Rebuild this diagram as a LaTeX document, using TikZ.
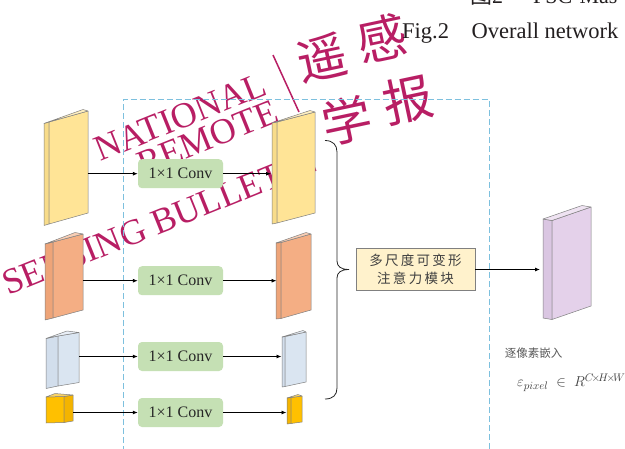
\documentclass[tikz,border=0pt]{standalone}
\usepackage{fontspec}
\setmainfont{Liberation Serif}
\newfontfamily\cjk{Noto Sans CJK SC}
\newfontfamily\cjkls[LetterSpace=17]{Noto Sans CJK SC}
\usetikzlibrary{arrows.meta}
\definecolor{wmred}{RGB}{184,30,100}
\definecolor{frameblue}{RGB}{125,192,222}
\definecolor{convgreen}{RGB}{197,224,180}
\definecolor{boxcream}{RGB}{255,242,204}
\definecolor{ylwF}{RGB}{255,228,150}
\definecolor{ylwS}{RGB}{248,220,138}
\definecolor{orgF}{RGB}{244,174,132}
\definecolor{orgS}{RGB}{238,164,120}
\definecolor{bluF}{RGB}{218,229,241}
\definecolor{bluS}{RGB}{210,222,236}
\definecolor{gldF}{RGB}{255,192,0}
\definecolor{gldS}{RGB}{244,180,0}
\definecolor{purF}{RGB}{228,209,234}
\definecolor{purS}{RGB}{218,198,226}
\definecolor{captext}{RGB}{35,31,32}
\newcommand\slabbox[9]{%
  \filldraw[slabedge, fill=#9] (#1,#4) -- (#2,#5) -- (#2,#5+#7) -- (#1,#4+#7) -- cycle;
  \filldraw[slabedge, fill=#8] (#2,#5) -- (#3,#6) -- (#3,#6+#7) -- (#2,#5+#7) -- cycle;
  \filldraw[slabedge, fill=#8!60!white] (#1,#4) -- (#2,#5) -- (#3,#6) -- (#3-#2+#1,#6-1.5) -- cycle;
}
\begin{document}
\begin{tikzpicture}[x=1pt,y=-1pt,
  slabedge/.style={draw=black!50, line width=0.5pt, line join=round},
  wm/.style={text=wmred, inner sep=0pt, rotate=22},
  wmcjk/.style={text=wmred, inner sep=0pt, rotate=12, font=\cjk\fontsize{50}{50}\selectfont},
  convbox/.style={fill=convgreen, rounded corners=4pt, minimum width=85pt, minimum height=29pt, inner sep=0pt, font=\fontsize{16}{18}\selectfont, text=black!85},
  conn/.style={-{Latex[length=5pt,width=4pt]}, line width=0.8pt, black},
  dashframe/.style={draw=frameblue, line width=0.8pt, dash pattern=on 6pt off 3pt},
]
\useasboundingbox (0,0) rectangle (625,448);
\fill[white] (0,0) rectangle (625,448);

% watermark (under the diagram)
\node[wm, anchor=base west, font=\fontsize{36}{36}\selectfont] (wmA) at (100,162) {NATIONAL};
\node[wm, anchor=base west, font=\fontsize{36}{36}\selectfont] (wmB) at (143,177) {REMOTE};
\node[wm, anchor=base west, font=\fontsize{36}{36}\selectfont] (wmC) at (8,296) {SENSING BULLETIN};
\draw[wmred, line width=1.5pt] (273,55) -- (299,112);
\node[wmcjk] (wmD) at (322,58) {遥};
\node[wmcjk] (wmE) at (382,38) {感};
\node[wmcjk] (wmF) at (347,120) {学};
\node[wmcjk] (wmG) at (408,100) {报};

% caption
\node[anchor=base west, inner sep=0pt, text=captext, font=\fontsize{22}{22}\selectfont] (cap0) at (470,3.5) {{\cjk 图}2\hspace{30pt}FSC-Mas};
\node[anchor=base west, inner sep=0pt, text=captext, font=\fontsize{22.5}{22.5}\selectfont] (cap) at (402,38) {Fig.2\hspace{1em}Overall network};

% dashed frame
\draw[dashframe] (123,470) -- (123,99.5) -- (489,99.5) -- (489,470);

% input feature maps
\slabbox{44}{49}{88}{123.5}{122}{111}{102}{ylwF}{ylwS}
\slabbox{45}{53}{83}{244}{242}{234}{76}{orgF}{orgS}
\slabbox{46}{58}{79}{338.5}{336}{332.5}{50}{bluF}{bluS}
\slabbox{46}{64}{73}{397}{396.5}{395}{26}{gldS}{gldF}
% output feature maps
\slabbox{272}{277}{315}{123}{122}{112}{101}{ylwF}{ylwS}
\slabbox{276}{281}{311}{243}{242.5}{234}{76}{orgF}{orgS}
\slabbox{282}{285}{306}{337}{336.5}{332}{50}{bluF}{bluS}
\slabbox{287}{291}{302}{398}{397.5}{396}{26}{gldF}{gldS}
% pixel embedding
\slabbox{543}{552}{591}{219}{220.5}{207}{99}{purF}{purS}

% attachment points
\coordinate (in1) at (87.5,173.7);
\coordinate (in2) at (82.5,280.7);
\coordinate (in3) at (79,356.5);
\coordinate (in4) at (73,412.5);
\coordinate (out1) at (271,173.7);
\coordinate (out2) at (276.5,280.7);
\coordinate (out3) at (281.5,356.5);
\coordinate (out4) at (286.5,412.5);
\coordinate (emb) at (540,269.5);

% conv boxes
\node[convbox] (c1) at (180.5,173.7) {1×1 Conv};
\node[convbox] (c2) at (180.5,280.7) {1×1 Conv};
\node[convbox] (c3) at (180.5,356.5) {1×1 Conv};
\node[convbox] (c4) at (180.5,412.5) {1×1 Conv};

\draw[conn] (in1) -- (c1);
\draw[conn] (in2) -- (c2);
\draw[conn] (in3) -- (c3);
\draw[conn] (in4) -- (c4);
\draw[conn] (c1) -- (out1);
\draw[conn] (c2) -- (out2);
\draw[conn] (c3) -- (out3);
\draw[conn] (c4) -- (out4);

% brace
\draw[line width=0.8pt, black!85] (325,140.5) .. controls (333,140.5) and (337,145) .. (337,152)
  -- (337,261) .. controls (337,266.5) and (341,269.5) .. (349,269.5)
  .. controls (341,269.5) and (337,272.5) .. (337,278)
  -- (337,388) .. controls (337,395) and (333,399) .. (325,399);

% multi-scale deformable attention module
\node[draw=black!50, line width=0.6pt, fill=boxcream, minimum width=119pt, minimum height=42pt, inner sep=0pt,
  align=center, text=black!75, font=\cjkls\fontsize{13.5}{18.3}\selectfont] (msda) at (415.5,269.5)
  {多尺度可变形\\注意力模块};
\draw[conn] (msda) -- (emb);

% labels
\node[text=black!65, inner sep=0pt, font=\cjk\fontsize{11.5}{12}\selectfont] (lab1) at (533.5,353) {逐像素嵌入};
\node[anchor=west, text=black!75, inner sep=0pt, font=\fontsize{15}{17}\selectfont] (lab2) at (517,383)
  {$\varepsilon_{pixel}\;\in\;R^{C\mkern-3mu\times\mkern-3mu H\mkern-3mu\times\mkern-3mu W}$};
\end{tikzpicture}
\end{document}
